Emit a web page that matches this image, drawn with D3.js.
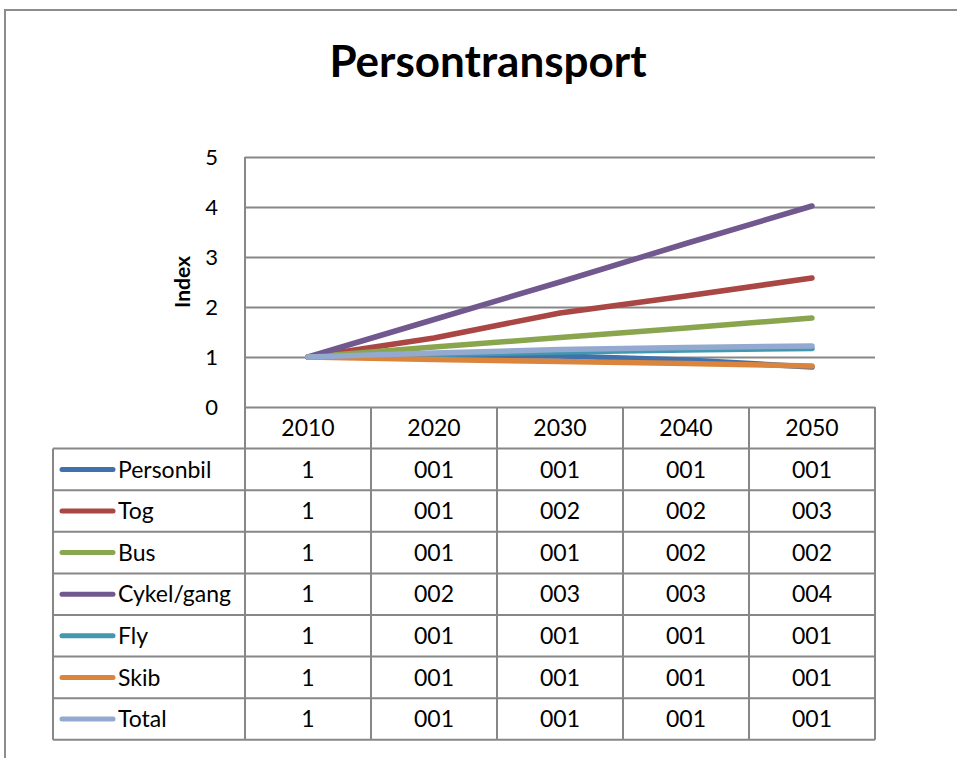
<!DOCTYPE html>
<html>
<head>
<meta charset="utf-8">
<script src="https://d3js.org/d3.v7.min.js"></script>
<style>
  body { margin: 0; background: #fff; }
  svg text { font-family: Lato, "Open Sans", sans-serif; fill: #000; }
</style>
</head>
<body>
<div id="chart"></div>
<script>
// data
var years = ["2010", "2020", "2030", "2040", "2050"];
var seriesNames = ["Personbil", "Tog", "Bus", "Cykel/gang", "Fly", "Skib", "Total"];
var personbil = [1, 1.03, 1.02, 0.94, 0.80];
var tog       = [1, 1.38, 1.88, 2.22, 2.58];
var bus       = [1, 1.20, 1.39, 1.58, 1.78];
var cykel     = [1, 1.75, 2.50, 3.27, 4.02];
var fly       = [1, 1.05, 1.10, 1.14, 1.17];
var skib      = [1, 0.95, 0.91, 0.87, 0.82];
var total     = [1, 1.08, 1.15, 1.19, 1.22];
var tableLabels = [
  ["1", "001", "001", "001", "001"],
  ["1", "001", "002", "002", "003"],
  ["1", "001", "001", "002", "002"],
  ["1", "002", "003", "003", "004"],
  ["1", "001", "001", "001", "001"],
  ["1", "001", "001", "001", "001"],
  ["1", "001", "001", "001", "001"]
];
var yTicks = [0, 1, 2, 3, 4, 5];
var colors = ["#4171aa", "#aa4643", "#89a54e", "#71588f", "#4198af", "#db843d", "#93a9cf"];

var allValues = [personbil, tog, bus, cykel, fly, skib, total];
var series = seriesNames.map(function(n, i) {
  return { name: n, values: allValues[i], labels: tableLabels[i], color: colors[i] };
});

var W = 957, H = 758;
var plotLeft = 245, plotRight = 875, plotTop = 157, plotBottom = 407;
var rowH = 41.6, legendLeft = 53;
var grid = "#878787";

var svg = d3.select("#chart").append("svg")
    .attr("width", W)
    .attr("height", H);

// outer chart border (partly cut off)
svg.append("path")
    .attr("d", "M5," + H + "V10H" + (W + 5))
    .attr("fill", "none")
    .attr("stroke", "#8c8c8c")
    .attr("stroke-width", 2);

svg.append("text")
    .attr("x", 488)
    .attr("y", 77)
    .attr("text-anchor", "middle")
    .style("font-size", "44px")
    .style("font-weight", "bold")
    .text("Persontransport");

var x = d3.scaleBand()
    .domain(years)
    .range([plotLeft, plotRight])
    .padding(0);

var y = d3.scaleLinear()
    .domain([0, 5])
    .range([plotBottom, plotTop]);

function cx(yr) { return x(yr) + x.bandwidth() / 2; }

// gridlines + y axis
var yAxis = svg.append("g")
    .attr("transform", "translate(" + plotLeft + ",0)")
    .call(d3.axisLeft(y).tickValues(yTicks).tickFormat(d3.format("d"))
      .tickSize(-(plotRight - plotLeft)).tickPadding(27));
yAxis.select(".domain").remove();
yAxis.selectAll(".tick line")
    .attr("stroke", grid)
    .attr("stroke-width", 2);
yAxis.selectAll(".tick text")
    .style("font-size", "22px")
    .style("font-family", "Lato, sans-serif");

svg.append("line")
    .attr("x1", plotLeft).attr("x2", plotLeft)
    .attr("y1", plotTop).attr("y2", plotBottom)
    .attr("stroke", grid)
    .attr("stroke-width", 2);

svg.append("text")
    .attr("transform", "translate(190," + ((plotTop + plotBottom) / 2) + ") rotate(-90)")
    .attr("text-anchor", "middle")
    .style("font-size", "21px")
    .style("font-weight", "bold")
    .text("Index");

// lines
var line = d3.line()
    .x(function(d, i) { return cx(years[i]); })
    .y(function(d) { return y(d); });

svg.selectAll(".series")
    .data(series)
  .enter().append("path")
    .attr("class", "series")
    .attr("d", function(d) { return line(d.values); })
    .attr("fill", "none")
    .attr("stroke", function(d) { return d.color; })
    .attr("stroke-width", 5.5)
    .attr("stroke-linecap", "round")
    .attr("stroke-linejoin", "round");

// data table
var table = svg.append("g");
var tableBottom = plotBottom + rowH * (series.length + 1);

// header vertical lines
x.domain().concat([null]).forEach(function(yr) {
  var xx = yr === null ? plotRight : x(yr);
  table.append("line")
      .attr("x1", xx).attr("x2", xx)
      .attr("y1", plotBottom).attr("y2", tableBottom)
      .attr("stroke", grid).attr("stroke-width", 2);
});
table.append("line")
    .attr("x1", legendLeft).attr("x2", legendLeft)
    .attr("y1", plotBottom + rowH).attr("y2", tableBottom)
    .attr("stroke", grid).attr("stroke-width", 2);

d3.range(series.length + 1).forEach(function(i) {
  var yy = plotBottom + rowH * (i + 1);
  table.append("line")
      .attr("x1", legendLeft).attr("x2", plotRight)
      .attr("y1", yy).attr("y2", yy)
      .attr("stroke", grid).attr("stroke-width", 2);
});

table.selectAll(".yr")
    .data(years)
  .enter().append("text")
    .attr("class", "yr")
    .attr("x", function(d) { return cx(d); })
    .attr("y", plotBottom + rowH / 2)
    .attr("dy", "0.36em")
    .attr("text-anchor", "middle")
    .style("font-size", "23px")
    .text(function(d) { return d; });

var rows = table.selectAll(".row")
    .data(series)
  .enter().append("g")
    .attr("class", "row")
    .attr("transform", function(d, i) { return "translate(0," + (plotBottom + rowH * (i + 1) + rowH / 2) + ")"; });

rows.append("line")
    .attr("x1", 62).attr("x2", 113)
    .attr("stroke", function(d) { return d.color; })
    .attr("stroke-width", 5)
    .attr("stroke-linecap", "round");

rows.append("text")
    .attr("x", 118)
    .attr("dy", "0.36em")
    .style("font-size", "23px")
    .text(function(d) { return d.name; });

rows.selectAll(".val")
    .data(function(d) { return d.labels; })
  .enter().append("text")
    .attr("class", "val")
    .attr("x", function(d, i) { return cx(years[i]); })
    .attr("dy", "0.36em")
    .attr("text-anchor", "middle")
    .style("font-size", "23px")
    .text(function(d) { return d; });
</script>
</body>
</html>
